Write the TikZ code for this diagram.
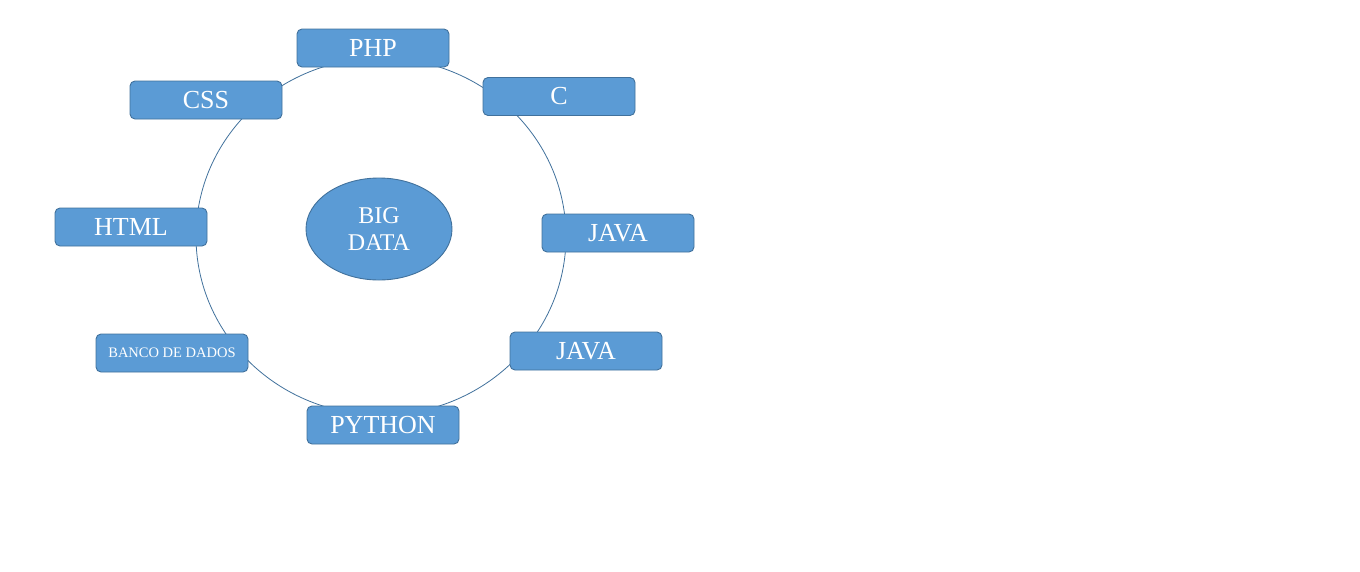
\documentclass[tikz,border=0pt]{standalone}
\usepackage{fontspec}
\setmainfont{Liberation Serif}
\usetikzlibrary{shapes.geometric}
\definecolor{boxfill}{HTML}{5B9BD5}
\definecolor{boxline}{HTML}{41719C}
\tikzset{
  langbox/.style={draw=boxline, line width=0.9pt, fill=boxfill, rounded corners=5pt,
    minimum width=152pt, minimum height=38pt, inner sep=0pt, text=white,
    font=\fontsize{26}{28}\selectfont},
  hub/.style={ellipse, draw=boxline, line width=0.9pt, fill=boxfill, minimum width=146pt,
    minimum height=102pt, inner sep=0pt, text=white, align=center,
    font=\fontsize{24}{27}\selectfont},
  ring/.style={draw=boxline, line width=0.8pt}
}
\begin{document}
\begin{tikzpicture}[x=1pt,y=-1pt]
\useasboundingbox (0,0) rectangle (1360,571);
\coordinate (ringc) at (381,236.5);
\draw[ring] (ringc) ellipse [x radius=185, y radius=178.5];
\node[hub] (bigdata) at (379,229) {BIG\\DATA};
\node[langbox] (php) at (373,48) {PHP};
\node[langbox] (c) at (559,96.5) {C};
\node[langbox] (css) at (206,100) {CSS};
\node[langbox] (html) at (131,227) {HTML};
\node[langbox] (java1) at (618,233) {JAVA};
\node[langbox] (java2) at (586,351) {JAVA};
\node[langbox, font=\fontsize{14.5}{16}\selectfont] (banco) at (172,353) {BANCO DE DADOS};
\node[langbox] (python) at (383,425) {PYTHON};
\end{tikzpicture}
\end{document}
